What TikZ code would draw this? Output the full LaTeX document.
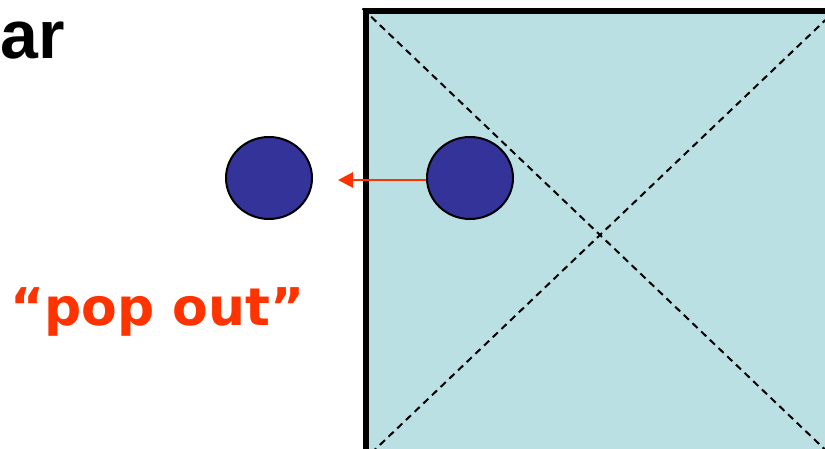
\documentclass[tikz,border=0pt]{standalone}
\usepackage{fontspec}
\setmainfont{DejaVu Sans}
\newfontfamily\arialbold{Liberation Sans}[BoldFont=* Bold]
\usepackage{tikz}
\usetikzlibrary{arrows.meta, positioning, shapes.geometric}

\definecolor{paleteal}{RGB}{187,224,227}
\definecolor{dotblue}{RGB}{51,51,153}
\definecolor{popred}{RGB}{255,51,0}

\begin{document}
\begin{tikzpicture}[
    x=1pt, y=1pt,
    box_node/.style={
        rectangle,
        draw=black,
        fill=paleteal,
        line width=6pt,
        minimum width=469pt,
        minimum height=447pt,
        inner sep=0pt
    },
    dot_node/.style={
        ellipse,
        draw=black,
        fill=dotblue,
        line width=2pt,
        minimum width=86pt,
        minimum height=82pt,
        inner sep=0pt
    },
    diag_line/.style={
        line width=2pt,
        dash pattern=on 7pt off 5pt
    },
    arrow_pop/.style={
        -{Triangle[length=15pt,width=15pt]},
        line width=2.8pt,
        color=popred
    }
]
    \clip (0,0) rectangle (825,449);
    \useasboundingbox (0,0) rectangle (825,449);

    % Box and its diagonals
    \node (box) [box_node, anchor=north west] at (362.5,440.5) {};
    \draw [diag_line] (box.north west) -- (box.south east);
    \draw [diag_line] (box.south west) -- (box.north east);

    % Dots
    \node (inside) [dot_node] at (470,271) {};
    \node (outside) [dot_node] at (269,271) {};
    \coordinate (tip) at (338,269);

    % Pop-out arrow
    \draw [arrow_pop] (inside.west |- tip) -- (tip);

    % Texts
    \node (title) [anchor=base west, inner sep=0pt, font=\arialbold\bfseries\fontsize{68}{72}\selectfont] at (0,390) {ar};
    \node (popout) [anchor=base west, inner sep=0pt, text=popred, font=\bfseries\fontsize{52}{56}\selectfont] at (10,123) {“pop out”};

\end{tikzpicture}
\end{document}
